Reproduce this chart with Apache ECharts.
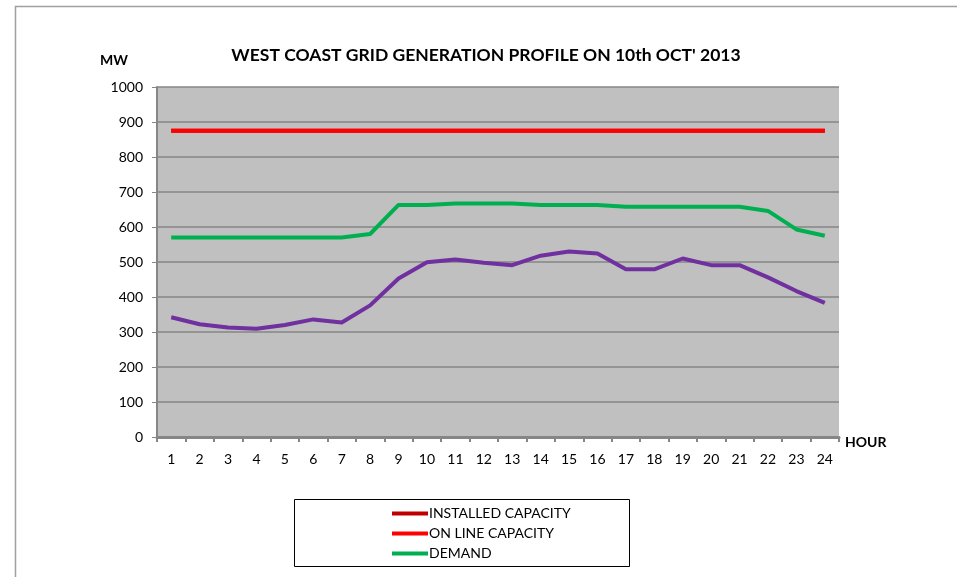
<!DOCTYPE html>
<html>
<head>
<meta charset="utf-8">
<script src="https://cdn.jsdelivr.net/npm/echarts@6/dist/echarts.min.js"></script>
<style>
html,body{margin:0;padding:0;background:#fff;}
#c{width:957px;height:577px;}
</style>
</head>
<body>
<div id="c"></div>
<script>
var hours = ['1','2','3','4','5','6','7','8','9','10','11','12','13','14','15','16','17','18','19','20','21','22','23','24'];
var installedCapacity = [875,875,875,875,875,875,875,875,875,875,875,875,875,875,875,875,875,875,875,875,875,875,875,875];
var onlineCapacity = [875,875,875,875,875,875,875,875,875,875,875,875,875,875,875,875,875,875,875,875,875,875,875,875];
var demand = [570,570,570,570,570,570,570,580,663,663,667,667,667,663,663,663,658,658,658,658,658,646,593,575];
var generation = [342,322,313,309,320,336,327,376,453,499,507,498,491,518,530,524,479,479,510,491,491,456,417,383];

var FONT = 'Lato, "Open Sans", sans-serif';
var chart = echarts.init(document.getElementById('c'));
function lineSeries(name, data, color, z) {
  return {
    name: name, type: 'line', data: data, symbol: 'none', z: z,
    lineStyle: {color: color, width: 4}, itemStyle: {color: color},
    emphasis: {disabled: true}
  };
}
chart.setOption({
  animation: false,
  backgroundColor: '#fff',
  title: {
    text: "WEST COAST GRID GENERATION PROFILE ON 10th OCT' 2013",
    left: 481, top: 41, textAlign: 'center',
    textStyle: {fontFamily: FONT, fontSize: 17.5, fontWeight: 'bold', color: '#000'}
  },
  graphic: [
    {type: 'rect', shape: {x: 15.5, y: 6.5, width: 1000, height: 1000}, style: {fill: null, stroke: '#a0a0a0', lineWidth: 1.5}, z: 0},
    {type: 'rect', shape: {x: 294.5, y: 499.5, width: 335, height: 67}, style: {fill: '#fff', stroke: '#000', lineWidth: 1}, z: 0},
    {type: 'text', left: 100, top: 53, style: {text: 'MW', font: 'bold 14px ' + FONT, fill: '#000'}},
    {type: 'text', left: 845, top: 435, style: {text: 'HOUR', font: 'bold 14px ' + FONT, fill: '#000'}}
  ],
  legend: {
    orient: 'vertical', left: 392, top: 506, itemGap: 5, itemWidth: 36, itemHeight: 4,
    icon: 'rect', padding: 0,
    data: ['INSTALLED CAPACITY', 'ON LINE CAPACITY', 'DEMAND'],
    textStyle: {fontFamily: FONT, fontSize: 14, color: '#000', padding: [0, 0, 0, -4], lineHeight: 15}
  },
  grid: {left: 157, right: 118, top: 87, bottom: 140, show: true, backgroundColor: '#c0c0c0', borderWidth: 0},
  xAxis: {
    type: 'category', data: hours, boundaryGap: true,
    axisLine: {lineStyle: {color: '#868686', width: 3}},
    axisTick: {show: true, interval: 0, length: 5, lineStyle: {color: '#868686', width: 2}},
    axisLabel: {interval: 0, fontFamily: FONT, fontSize: 14, color: '#000', margin: 15},
    splitLine: {show: false}
  },
  yAxis: {
    type: 'value', min: 0, max: 1000, interval: 100,
    axisLine: {show: true, lineStyle: {color: '#868686', width: 2}},
    axisTick: {show: true, length: 5, lineStyle: {color: '#868686', width: 1}},
    axisLabel: {fontFamily: FONT, fontSize: 14, color: '#000', margin: 14, formatter: function (v) { return String(v); }},
    splitLine: {show: true, lineStyle: {color: '#868686', width: 1.5}}
  },
  series: [
    lineSeries('INSTALLED CAPACITY', installedCapacity, '#c00000', 2),
    lineSeries('ON LINE CAPACITY', onlineCapacity, '#ff0000', 3),
    lineSeries('DEMAND', demand, '#00b050', 4),
    lineSeries('GENERATION', generation, '#7030a0', 5)
  ]
});
</script>
</body>
</html>
